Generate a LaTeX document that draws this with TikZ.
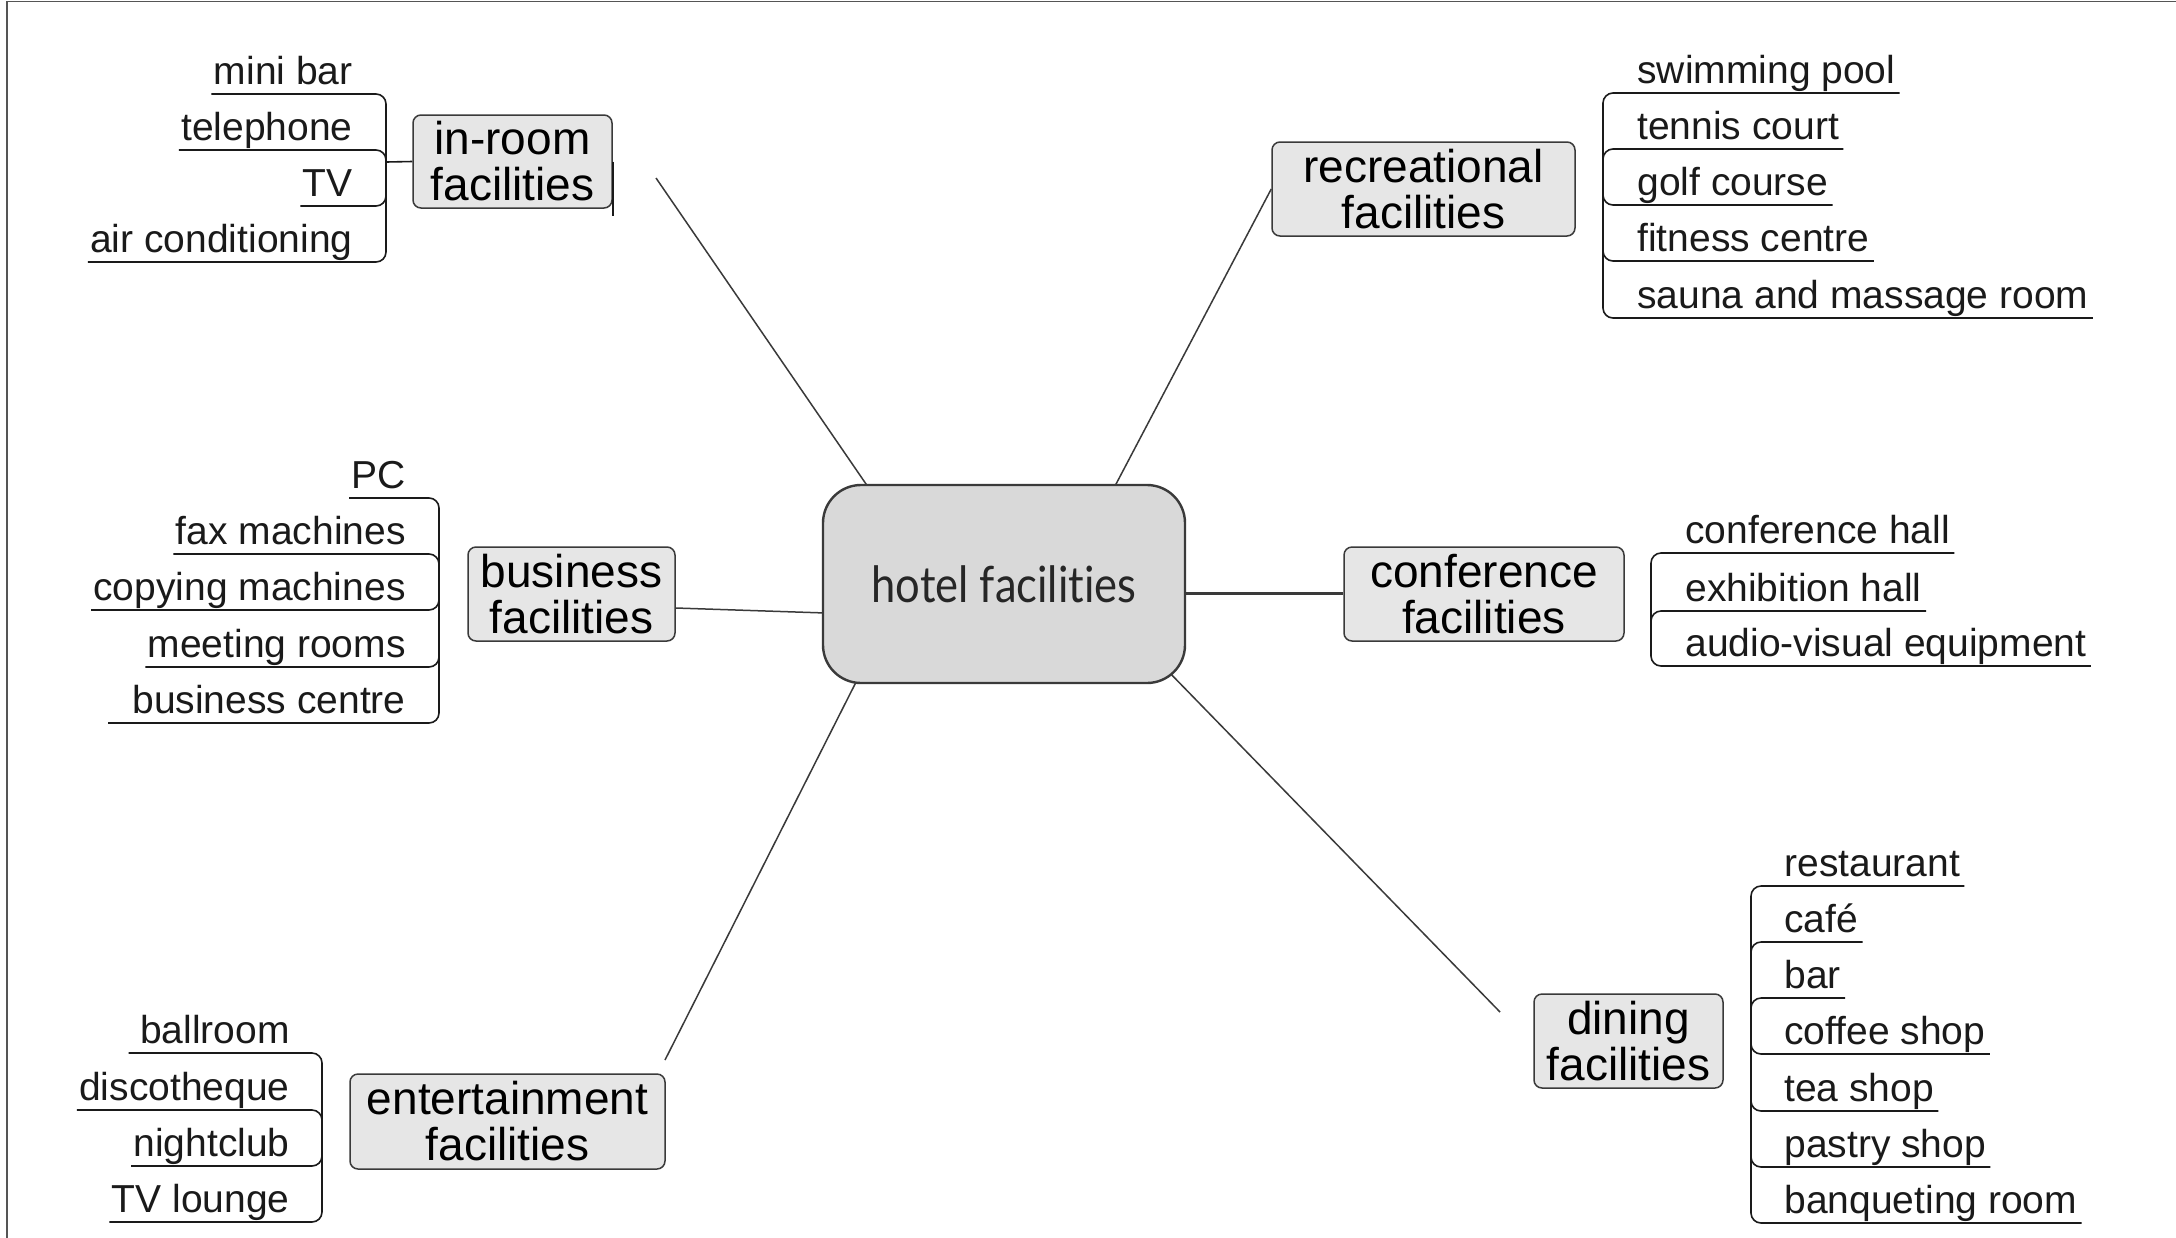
\documentclass[tikz,border=0pt]{standalone}
\usepackage{fontspec}
\setmainfont{Liberation Sans}
\newfontfamily\hubfont[FakeStretch=0.87,Ligatures={NoCommon,NoContextual}]{Lato}
\usetikzlibrary{calc}
\pgfdeclarelayer{bg}
\pgfsetlayers{bg,main}
\definecolor{hubfill}{HTML}{D9D9D9}
\definecolor{hubline}{HTML}{3A3A3A}
\definecolor{hubtext}{HTML}{262626}
\definecolor{catfill}{HTML}{E6E6E6}
\definecolor{ink}{HTML}{1A1A1A}
\definecolor{framecol}{HTML}{555555}
\begin{document}
\begin{tikzpicture}[x=0.5pt,y=-0.5pt,
  hubbox/.style={draw=hubline, line width=1.2pt, fill=hubfill, rounded corners=19pt,
    minimum width=181pt, minimum height=99pt, inner sep=0pt,
    font=\hubfont\fontsize{25}{30}\selectfont, text=hubtext},
  catbox/.style={draw=hubline, line width=0.75pt, fill=catfill, rounded corners=4pt,
    inner sep=0pt, align=center, font=\fontsize{23}{23}\selectfont, text=black},
  leaf/.style={inner sep=0pt, text depth=4.5pt, font=\fontsize{19.5}{20}\selectfont, text=ink},
  lleaf/.style={leaf, anchor=south east},
  rleaf/.style={leaf, anchor=south west},
  twig/.style={draw=ink, line width=0.8pt, rounded corners=5pt},
  spoke/.style={draw=hubline, line width=0.75pt},
]
\useasboundingbox (0,0) rectangle (2176,1238);
\begin{pgfonlayer}{bg}
\fill[white] (0,0) rectangle (2176,1238);
\end{pgfonlayer}
\draw[framecol, line width=0.8pt] (7,1238) -- (7,1.5) -- (2176,1.5);

% hub and categories
\node[hubbox] (hub) at (1004,584) {hotel facilities};
\node[catbox, minimum width=99.5pt, minimum height=46.5pt] (inroom) at (512.5,161.5) {in-room\\facilities};
\node[catbox, minimum width=151.5pt, minimum height=47pt] (recr) at (1423.5,189) {recreational\\facilities};
\node[catbox, minimum width=103.5pt, minimum height=47pt] (bus) at (571.5,594) {business\\facilities};
\node[catbox, minimum width=140pt, minimum height=47pt] (conf) at (1484,594) {conference\\facilities};
\node[catbox, minimum width=94.5pt, minimum height=47pt] (din) at (1628.5,1041) {dining\\facilities};
\node[catbox, minimum width=157.5pt, minimum height=47.5pt] (ent) at (507.5,1121.5) {entertainment\\facilities};

% free ends of spokes
\coordinate (eIR) at (656,178);
\coordinate (eDN) at (1500,1012);
\coordinate (eEN) at (665,1060);

\begin{pgfonlayer}{bg}
\draw[spoke] ($(hub.north)+(-134,6)$) -- (eIR);
\draw[spoke] ($(hub.north)+(109,6)$) -- (recr.west);
\draw[spoke] ($(hub.west)+(4,29)$) -- ($(bus.east)+(0,14)$);
\draw[spoke, line width=1.5pt] ($(hub.east)+(-4,9)$) -- ($(conf.west)+(0,-1)$);
\draw[spoke] ($(hub.south east)+(-21,-16)$) -- (eDN);
\draw[spoke] ($(hub.south)+(-145,-8)$) -- (eEN);
\end{pgfonlayer}

% in-room facilities
\coordinate (jIR) at (386,162);
\draw[twig, rounded corners=0pt] (inroom.west) -- (jIR);
\draw[ink, line width=0.8pt] (inroom.east) -- ++(0,54);
\node[lleaf] (ir1) at (353,94) {mini bar};
\node[lleaf] (ir2) at (353,150) {telephone};
\node[lleaf] (ir3) at (353,206) {TV};
\node[lleaf] (ir4) at (353,262) {air conditioning};
\foreach \l in {ir1,ir2,ir3,ir4}{\draw[twig] (jIR) |- ($(\l.south west)+(-2,0)$);}

% recreational facilities
\coordinate (jRC) at (1603,189);
\node[rleaf] (rc1) at (1637,93) {swimming pool};
\node[rleaf] (rc2) at (1637,149) {tennis court};
\node[rleaf] (rc3) at (1637,205) {golf course};
\node[rleaf] (rc4) at (1637,261) {fitness centre};
\node[rleaf] (rc5) at (1637,318) {sauna and massage room};
\foreach \l in {rc1,rc2,rc3,rc4,rc5}{\draw[twig] (jRC) |- ($(\l.south east)+(4,0)$);}

% business facilities
\coordinate (jBU) at (439,594);
\node[lleaf] (bu1) at (406,498) {PC};
\node[lleaf] (bu2) at (406,554) {fax machines};
\node[lleaf] (bu3) at (406,610) {copying machines};
\node[lleaf] (bu4) at (406,667) {meeting rooms};
\node[lleaf] (bu5) at (406,723) {business centre};
\foreach \l in {bu1,bu2,bu3,bu4}{\draw[twig] (jBU) |- ($(\l.south west)+(-2,0)$);}
\draw[twig] (jBU) |- ($(bu5.south west)+(-24,0)$);

% conference facilities
\coordinate (jCF) at (1651,635);
\node[rleaf] (cf1) at (1685,553) {conference hall};
\node[rleaf] (cf2) at (1685,611) {exhibition hall};
\node[rleaf] (cf3) at (1685,666) {audio-visual equipment};
\foreach \l in {cf1,cf2,cf3}{\draw[twig] (jCF) |- ($(\l.south east)+(4,0)$);}

% dining facilities
\coordinate (jDN) at (1751,1041);
\node[rleaf] (dn1) at (1784,886) {restaurant};
\node[rleaf] (dn2) at (1784,942) {café};
\node[rleaf] (dn3) at (1784,998) {bar};
\node[rleaf] (dn4) at (1784,1054) {coffee shop};
\node[rleaf] (dn5) at (1784,1111) {tea shop};
\node[rleaf] (dn6) at (1784,1167) {pastry shop};
\node[rleaf] (dn7) at (1784,1223) {banqueting room};
\foreach \l in {dn1,dn2,dn3,dn4,dn5,dn6,dn7}{\draw[twig] (jDN) |- ($(\l.south east)+(4,0)$);}

% entertainment facilities
\coordinate (jEN) at (322,1130);
\node[lleaf] (en1) at (290,1053) {ballroom};
\node[lleaf] (en2) at (290,1110) {discotheque};
\node[lleaf] (en3) at (290,1166) {nightclub};
\node[lleaf] (en4) at (290,1222) {TV lounge};
\draw[twig] (jEN) |- ($(en1.south west)+(-11,0)$);
\foreach \l in {en2,en3,en4}{\draw[twig] (jEN) |- ($(\l.south west)+(-2,0)$);}
\end{tikzpicture}
\end{document}
